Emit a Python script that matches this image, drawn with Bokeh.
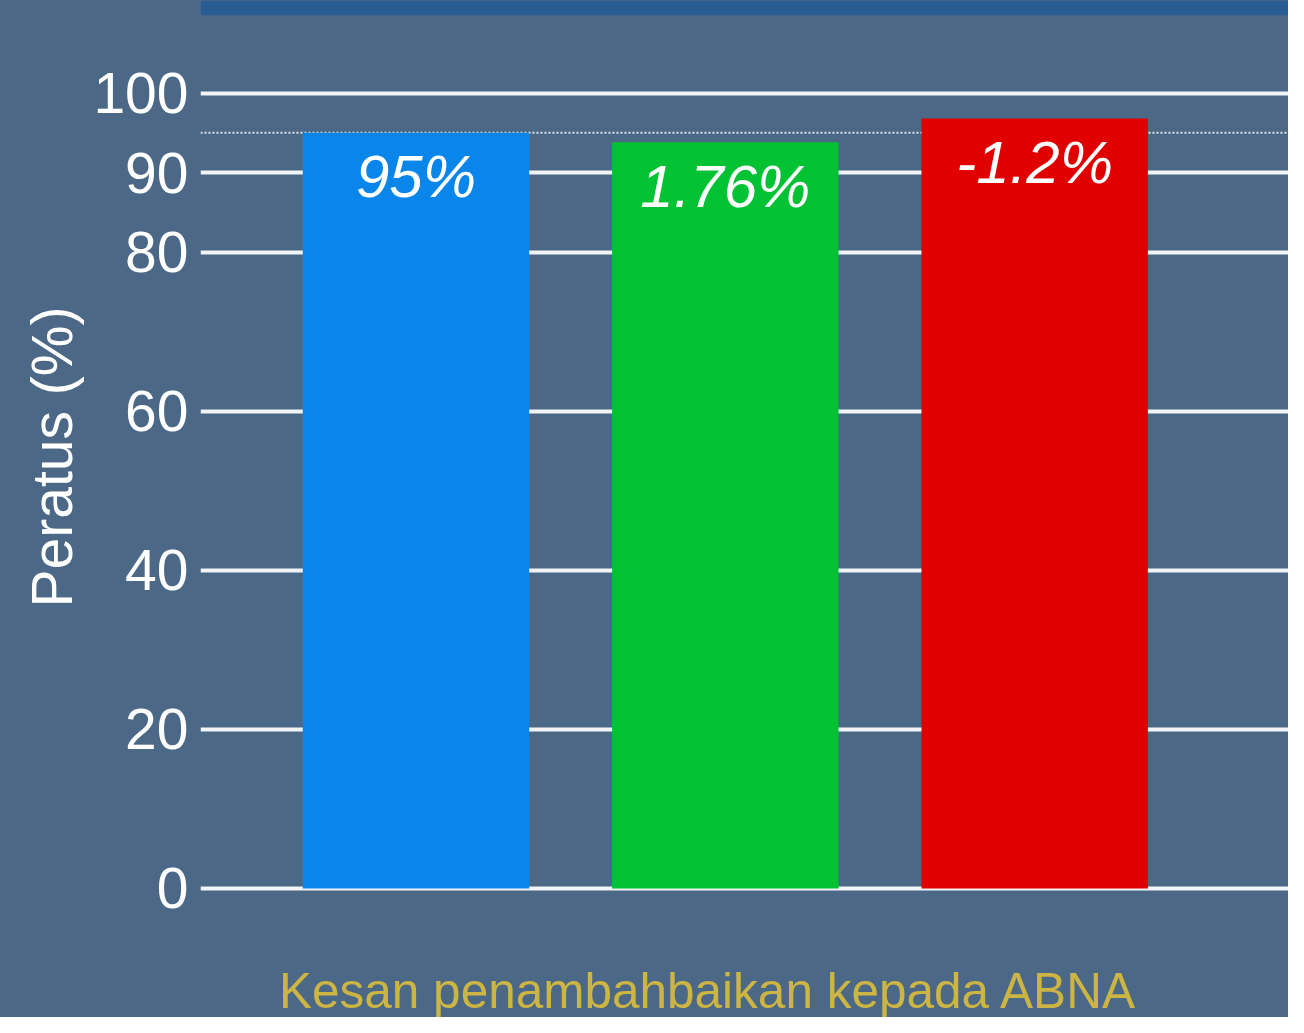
from bokeh.plotting import figure
from bokeh.models import Range1d, Span, Title, ColumnDataSource, BoxAnnotation
from bokeh.core.properties import value
from bokeh.embed import file_html
from bokeh.resources import INLINE

# ---- data ----
bar_names = ["Bar 1", "Bar 2", "Bar 3"]
values = [95, 93.8, 96.8]
bar_labels = ["95%", "1.76%", "-1.2%"]
bar_colors = ["#0a86ea", "#00c232", "#e00000"]
y_ticks = [0, 20, 40, 60, 80, 90, 100]
reference_level = 95
y_axis_label = "Peratus (%)"
x_title = "Kesan penambahbaikan kepada ABNA"

BG = "#4b6886"
FONT = "Liberation Sans"

xpos = list(range(1, len(values) + 1))
src = ColumnDataSource(dict(x=xpos, top=values, label=bar_labels, color=bar_colors, name=bar_names))

p = figure(width=1288, height=1017, output_backend="svg", toolbar_location=None,
           x_range=Range1d(0.3034, 3.8205), y_range=Range1d(-16.22, 111.63),
           x_axis_location=None, min_border_left=200, min_border_right=0,
           min_border_top=0, min_border_bottom=0)

p.background_fill_color = BG
p.border_fill_color = BG
p.outline_line_color = None
p.styles = {"background-color": BG}

# top dark band (background decoration)
p.add_layout(BoxAnnotation(bottom=109.77, fill_color="#295d92", fill_alpha=1,
                           line_color=None, level="underlay"))

# grid
p.xgrid.visible = False
p.ygrid.grid_line_color = "#f2f4f7"
p.ygrid.grid_line_width = 4
p.yaxis.ticker = y_ticks

# dotted reference line
p.add_layout(Span(location=reference_level, dimension="width", line_color="#dfe4ea",
                  line_width=2, line_dash="2 2", level="underlay"))

# bars
p.vbar(x="x", top="top", bottom=0, width=0.732, fill_color="color", line_color=None, source=src)

# bar labels
p.text(x="x", y="top", text="label", text_font=value(FONT), text_font_style="italic",
       text_font_size="60px", text_color="white", text_align="center",
       text_baseline="middle", y_offset=44, source=src)

# y axis
ax = p.yaxis[0]
ax.axis_line_color = None
ax.major_tick_line_color = None
ax.minor_tick_line_color = None
ax.major_tick_out = 0
ax.major_tick_in = 0
ax.minor_tick_out = 0
ax.major_label_text_font = FONT
ax.major_label_text_font_size = "57px"
ax.major_label_text_color = "white"
ax.major_label_standoff = 12

# y axis label as a left title (positioned from the top of the frame)
yt = Title(text=y_axis_label, align="right", offset=306, vertical_align="bottom",
           text_font=FONT, text_font_size="57px", text_font_style="normal",
           text_color="white", standoff=14)
p.add_layout(yt, "left")

# bottom caption
p.text(x=[1.945], y=[-12.8], text=[x_title], text_font=value(FONT), text_font_size="49.5px",
       text_font_style="normal", text_color="#cdb543", text_align="center",
       text_baseline="alphabetic")

open("out.html", "w").write(file_html(p, INLINE))
